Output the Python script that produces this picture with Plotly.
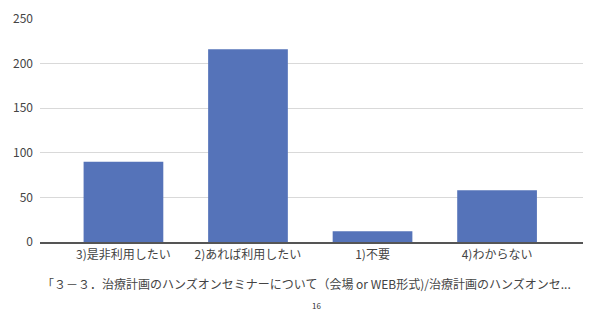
import plotly.graph_objects as go

categories = ["3)是非利用したい", "2)あれば利用したい", "1)不要", "4)わからない"]
values = [90, 216, 12, 58]
y_ticks = [0, 50, 100, 150, 200, 250]
x_title = "「３－３．治療計画のハンズオンセミナーについて（会場 or WEB形式)/治療計画のハンズオンセ..."
page_no = "16"

FONT = "Noto Sans CJK JP, Noto Sans, sans-serif"

fig = go.Figure(go.Bar(
    x=categories, y=values,
    marker=dict(color="#5573b9", line=dict(width=0)),
    width=0.64,
))

fig.update_layout(
    width=584, height=308,
    margin=dict(l=32, r=9, t=11, b=74, autoexpand=False),
    paper_bgcolor="white", plot_bgcolor="white",
    font=dict(family=FONT, size=12, color="#444444"),
    showlegend=False,
    xaxis=dict(
        range=[-0.67, 3.69], automargin=False,
        showgrid=False, zeroline=False,
        showline=True, linecolor="#555555", linewidth=1.5,
        ticks="", tickfont=dict(size=12, color="#444444"),
        ticklabelstandoff=1,
    ),
    yaxis=dict(
        range=[0, 250], tickvals=y_ticks, automargin=False,
        showgrid=True, gridcolor="#d9d9d9", gridwidth=1,
        zeroline=False, showline=False, ticks="",
        tickfont=dict(size=12, color="#444444"),
        ticklabelstandoff=6, ticklabeloverflow="allow",
    ),
    annotations=[
        dict(text=x_title, xref="paper", yref="paper", x=0.49, y=0, yshift=-41,
             xanchor="center", yanchor="middle", showarrow=False,
             font=dict(size=12, color="#444444", family=FONT)),
        dict(text=page_no, xref="paper", yref="paper", x=0.51, y=0, yshift=-63,
             xanchor="center", yanchor="middle", showarrow=False,
             font=dict(size=8, color="#333333", family=FONT)),
    ],
)

fig.write_html("out.html")
